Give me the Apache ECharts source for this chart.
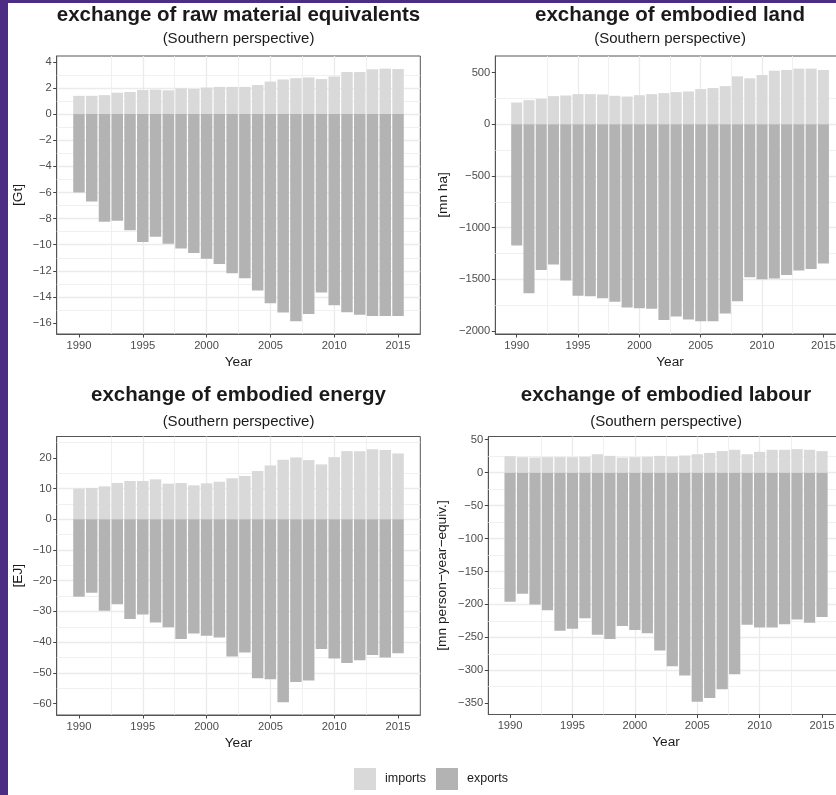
<!DOCTYPE html>
<html><head><meta charset="utf-8">
<script src="https://cdn.jsdelivr.net/npm/echarts@6/dist/echarts.min.js"></script>
<style>
html,body{margin:0;padding:0;background:#4b2d83;}
#wrap{position:relative;width:836px;height:795px;background:#4b2d83;overflow:hidden}
#chart{position:absolute;left:8px;top:3px;width:828px;height:792px;background:#fff}
</style></head><body><div id="wrap"><div id="chart"></div></div>
<script>
const years = [1990,1991,1992,1993,1994,1995,1996,1997,1998,1999,2000,2001,2002,2003,2004,2005,2006,2007,2008,2009,2010,2011,2012,2013,2014,2015];
const yearTicks = [1990,1995,2000,2005,2010,2015];

const rmeImports = [1.40,1.40,1.45,1.64,1.69,1.84,1.87,1.82,1.97,1.92,2.03,2.08,2.08,2.08,2.23,2.49,2.65,2.75,2.81,2.68,2.88,3.22,3.22,3.43,3.48,3.45];
const rmeExports = [-6.0,-6.7,-8.25,-8.17,-8.9,-9.8,-9.4,-9.93,-10.3,-10.63,-11.07,-11.47,-12.19,-12.57,-13.51,-14.48,-15.2,-15.87,-15.3,-13.66,-14.63,-15.17,-15.37,-15.45,-15.45,-15.45];
const rmeTicks = [-16,-14,-12,-10,-8,-6,-4,-2,0,2,4];

const landImports = [211,234,247,273,279,292,292,289,276,269,282,292,302,312,318,341,351,370,464,445,477,519,526,539,539,526];
const landExports = [-1174,-1635,-1410,-1358,-1513,-1661,-1665,-1684,-1719,-1774,-1781,-1787,-1894,-1861,-1890,-1908,-1906,-1832,-1713,-1481,-1500,-1494,-1458,-1416,-1400,-1348];
const landTicks = [-2000,-1500,-1000,-500,0,500];

const energyImports = [9.95,10.16,10.7,11.8,12.43,12.43,12.97,11.57,11.78,11.03,11.68,12.2,13.3,14.05,15.68,17.5,19.35,20.1,19.24,17.84,20.2,22.16,22.16,22.8,22.5,21.4];
const energyExports = [-25.2,-23.9,-29.8,-27.7,-32.5,-31.0,-33.6,-35.2,-39.0,-37.2,-37.9,-38.5,-44.7,-43.4,-51.8,-52.1,-59.6,-53.0,-52.5,-42.2,-45.3,-46.8,-45.9,-44.2,-45.0,-43.6];
const energyTicks = [-60,-50,-40,-30,-20,-10,0,10,20];

const labourImports = [25,23.5,23,23.5,23.5,23.5,24,28,25.5,23,23.5,24,25.5,24.5,26,28,30,32.7,34.7,28,31.6,34.7,34.7,35.7,34.7,32.7];
const labourExports = [-196,-184,-200,-209,-240,-237,-221,-246,-252.5,-233,-239,-244,-270,-294,-308,-348,-342,-329,-306,-231,-235,-235,-230,-223,-228,-219];
const labourTicks = [-350,-300,-250,-200,-150,-100,-50,0,50];

const titles = ['exchange of raw material equivalents','exchange of embodied land','exchange of embodied energy','exchange of embodied labour'];
const subtitle = '(Southern perspective)';
const units = ['[Gt]','[mn ha]','[EJ]','[mn person\u2212year\u2212equiv.]'];
const legendNames = ['imports','exports'];

const FONT = '"Liberation Sans", Arial, Helvetica, sans-serif';
const IMP = '#d9d9d9', EXP = '#b3b3b3';

const panels = [
  {imp: rmeImports, exp: rmeExports, ticks: rmeTicks, g:[48.7,53,363.6,278], gap:31, ty:12.5, sy:35.8},
  {imp: landImports, exp: landExports, ticks: landTicks, g:[487.3,53,349.5,278], gap:45, ty:12.5, sy:35.8},
  {imp: energyImports, exp: energyExports, ticks: energyTicks, g:[48.7,433.5,363.6,278.5], gap:31, ty:392.5, sy:418.5},
  {imp: labourImports, exp: labourExports, ticks: labourTicks, g:[480.3,433.5,355.5,278], gap:39, ty:392.5, sy:418.5}
];

const fmt = v => String(v).replace('-', '\u2212');
const grid=[], xAxis=[], yAxis=[], series=[], graphic=[];

function minors(ticks, lo, hi){
  const d = ticks[1]-ticks[0], out=[];
  for(let i=-1;i<ticks.length;i++){
    const m = (i<0 ? ticks[0]-d : ticks[i]) + d/2;
    if(m>lo && m<hi) out.push(m);
  }
  return out;
}

panels.forEach((p,i)=>{
  const lo = Math.min(0, ...p.exp), hi = Math.max(0, ...p.imp);
  const R = hi-lo, ymin = lo-0.05*R, ymax = hi+0.05*R;
  const xlo = years[0]-0.45, xhi = years[years.length-1]+0.45, XR = xhi-xlo;
  const xmin = xlo-0.05*XR, xmax = xhi+0.05*XR;
  const yInt = p.ticks[1]-p.ticks[0];
  grid.push({left:p.g[0], top:p.g[1], width:p.g[2], height:p.g[3], show:true, borderColor:'#555', borderWidth:1,
    backgroundColor:'transparent', containLabel:false, outerBoundsMode:'none'});
  xAxis.push({type:'value', gridIndex:i, min:xmin, max:xmax, minInterval:5, maxInterval:5,
    name:'Year', nameLocation:'middle', nameGap:21,
    nameTextStyle:{color:'#1a1a1a', fontSize:13.7, fontFamily:FONT, verticalAlign:'top'},
    axisLine:{show:true, onZero:false, lineStyle:{color:'#555', width:1}},
    axisTick:{show:true, length:3.5, lineStyle:{color:'#444'}, customValues: yearTicks},
    axisLabel:{customValues: yearTicks, formatter: v=>String(v), margin:6, color:'#4d4d4d', fontSize:11.2, fontFamily:FONT},
    splitLine:{show:true, showMinLine:false, showMaxLine:false, lineStyle:{color:'#ebebeb', width:1.3}}});
  yAxis.push({type:'value', gridIndex:i, min:ymin, max:ymax, minInterval:yInt, maxInterval:yInt,
    name:units[i], nameLocation:'middle', nameGap:p.gap, nameRotate:90,
    nameTextStyle:{color:'#1a1a1a', fontSize:13.7, fontFamily:FONT},
    axisLine:{show:true, onZero:false, lineStyle:{color:'#555', width:1}},
    axisTick:{show:true, length:3.5, lineStyle:{color:'#444'}, customValues: p.ticks},
    axisLabel:{customValues: p.ticks, formatter: fmt, margin:5, color:'#4d4d4d', fontSize:11.2, fontFamily:FONT},
    splitLine:{show:true, showMinLine:false, showMaxLine:false, lineStyle:{color:'#ebebeb', width:1.3}}});
  const ml = minors(p.ticks, ymin, ymax).map(v=>({yAxis:v}))
    .concat(minors(yearTicks, xmin, xmax).map(v=>({xAxis:v})));
  series.push({type:'line', xAxisIndex:i, yAxisIndex:i, data:[], silent:true, z:1,
    markLine:{silent:true, z:1, animation:false, symbol:['none','none'], label:{show:false},
      lineStyle:{color:'#eeeeee', width:0.9, type:'solid'}, emphasis:{disabled:true}, data:ml}});
  series.push({type:'bar', name:legendNames[0], xAxisIndex:i, yAxisIndex:i, z:2, silent:true,
    data: years.map((y,k)=>[y,p.imp[k]]), barWidth:'90%', barGap:'-100%', itemStyle:{color:IMP}});
  series.push({type:'bar', name:legendNames[1], xAxisIndex:i, yAxisIndex:i, z:2, silent:true,
    data: years.map((y,k)=>[y,p.exp[k]]), barWidth:'90%', barGap:'-100%', itemStyle:{color:EXP}});
  const cx = p.g[0]+p.g[2]/2;
  graphic.push({type:'text', x:cx, y:p.ty, silent:true, style:{text:titles[i], fill:'#1a1a1a', fontSize:20.5, fontWeight:'bold', fontFamily:FONT, align:'center', verticalAlign:'middle'}});
  graphic.push({type:'text', x:cx, y:p.sy, silent:true, style:{text:subtitle, fill:'#1a1a1a', fontSize:15, fontFamily:FONT, align:'center', verticalAlign:'middle'}});
});

const chart = echarts.init(document.getElementById('chart'), null, {renderer:'canvas'});
chart.setOption({
  animation:false,
  backgroundColor:'#ffffff',
  grid, xAxis, yAxis, series, graphic,
  legend:{data:legendNames, left:346, top:765, padding:0, itemWidth:22, itemHeight:22, itemGap:10, icon:'rect', selectedMode:false,
    textStyle:{fontSize:12.5, color:'#1a1a1a', fontFamily:FONT, padding:[0,0,0,4]}},
  tooltip:{show:false}
});
</script></body></html>
